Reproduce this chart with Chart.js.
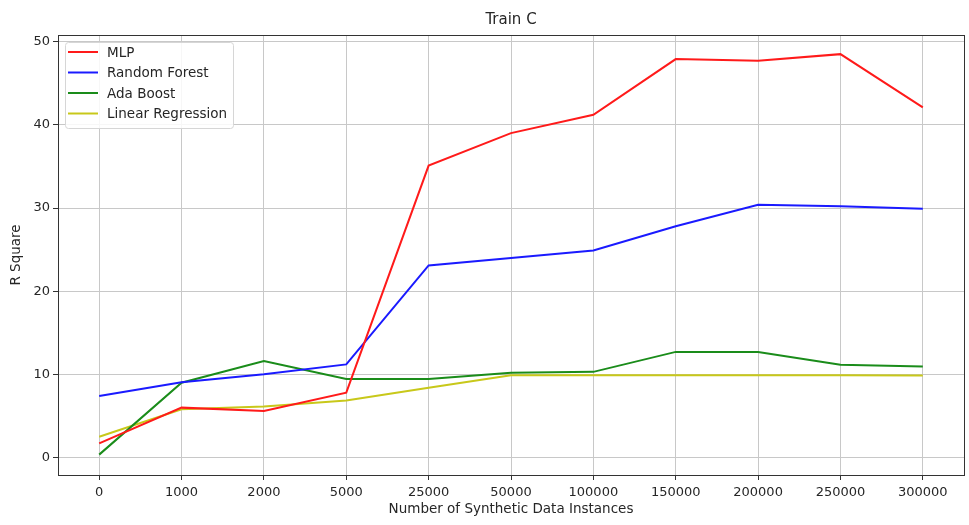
<!DOCTYPE html>
<html>
<head>
<meta charset="utf-8">
<script src="https://cdn.jsdelivr.net/npm/chart.js@4.4.0/dist/chart.umd.min.js"></script>
<style>
  html, body { margin: 0; padding: 0; background: #fff; }
  #wrap { width: 969px; height: 525px; }
</style>
</head>
<body>
<div id="wrap"><canvas id="chart" width="969" height="525"></canvas></div>
<script>
// ======================
// Datos
// ======================
const instancias = ["0", "1000", "2000", "5000", "25000", "50000", "100000", "150000", "200000", "250000", "300000"];
const mlp = [1.7, 6.0, 5.6, 7.8, 35.1, 39.0, 41.2, 47.9, 47.7, 48.5, 42.1];
const randomForest = [7.4, 9.05, 10.0, 11.2, 23.1, 24.0, 24.9, 27.8, 30.4, 30.2, 29.9];
const adaBoost = [0.35, 9.0, 11.6, 9.45, 9.45, 10.2, 10.3, 12.7, 12.7, 11.15, 10.95];
const linearRegression = [2.5, 5.8, 6.15, 6.85, 8.4, 9.9, 9.9, 9.9, 9.9, 9.9, 9.85];

const FONT = "DejaVu Sans";
const TEXTO = "#262626";

// titulo centrado sobre el area, borde completo y leyenda dentro (estilo matplotlib)
const marcoYLeyenda = {
  id: "marcoYLeyenda",
  afterDraw(chart) {
    const ctx = chart.ctx;
    const a = chart.chartArea;
    ctx.save();
    ctx.strokeStyle = "#333";
    ctx.lineWidth = 1;
    ctx.strokeRect(Math.round(a.left) + 0.5, Math.round(a.top) + 0.5,
      Math.round(a.right - a.left), Math.round(a.bottom - a.top));

    // titulo
    ctx.fillStyle = TEXTO;
    ctx.font = "15px '" + FONT + "'";
    ctx.textAlign = "center";
    ctx.textBaseline = "middle";
    ctx.fillText("Train C", (a.left + a.right) / 2, 20.5);

    // leyenda
    const x0 = a.left + 7, y0 = a.top + 7, w = 168, h = 86;
    ctx.fillStyle = "rgba(255,255,255,0.85)";
    ctx.strokeStyle = "#d6d6d6";
    ctx.beginPath();
    ctx.roundRect(x0 + 0.5, y0 + 0.5, w, h, 3);
    ctx.fill();
    ctx.stroke();
    ctx.font = "13.5px '" + FONT + "'";
    ctx.textAlign = "left";
    chart.data.datasets.forEach((ds, i) => {
      const y = y0 + 10 + i * 20.5;
      ctx.strokeStyle = ds.borderColor;
      ctx.lineWidth = 2;
      ctx.beginPath();
      ctx.moveTo(x0 + 3, y);
      ctx.lineTo(x0 + 33, y);
      ctx.stroke();
      ctx.fillStyle = TEXTO;
      ctx.fillText(ds.label, x0 + 42, y + 1);
    });
    ctx.restore();
  }
};

const chart = new Chart(document.getElementById("chart"), {
  type: "line",
  data: {
    labels: instancias,
    datasets: [
      { label: "MLP", data: mlp, borderColor: "#ff1a1a" },
      { label: "Random Forest", data: randomForest, borderColor: "#1a1aff" },
      { label: "Ada Boost", data: adaBoost, borderColor: "#1a8c1a" },
      { label: "Linear Regression", data: linearRegression, borderColor: "#c8c81a" }
    ].map(d => ({ ...d, borderWidth: 2, pointRadius: 0, tension: 0, fill: false }))
  },
  options: {
    responsive: false,
    animation: false,
    layout: { padding: { left: 0, right: 5, top: 35, bottom: 0 } },
    plugins: {
      legend: { display: false },
      tooltip: { enabled: false },
      title: { display: false }
    },
    scales: {
      x: {
        offset: true,
        grid: { color: "#c8c8c8", lineWidth: 1, offset: false, tickLength: 5, tickColor: "#333" },
        border: { display: false },
        ticks: { color: TEXTO, font: { family: FONT, size: 13 }, padding: 5, maxRotation: 0, autoSkip: false },
        title: { display: true, text: "Number of Synthetic Data Instances", color: TEXTO,
                 font: { family: FONT, size: 13.5 }, padding: { top: 0, bottom: 7 } },
        afterFit: s => { s.height = 50; }
      },
      y: {
        min: -2.1,
        max: 50.8,
        grid: { color: "#c8c8c8", lineWidth: 1, tickLength: 5, tickColor: "#333" },
        border: { display: false },
        ticks: { stepSize: 10, includeBounds: false, color: TEXTO, font: { family: FONT, size: 13 }, padding: 3 },
        title: { display: true, text: "R Square", color: TEXTO,
                 font: { family: FONT, size: 13.5 }, padding: { top: 8, bottom: 0 } },
        afterFit: s => { s.width = 58; }
      }
    }
  },
  plugins: [marcoYLeyenda]
});
</script>
</body>
</html>
